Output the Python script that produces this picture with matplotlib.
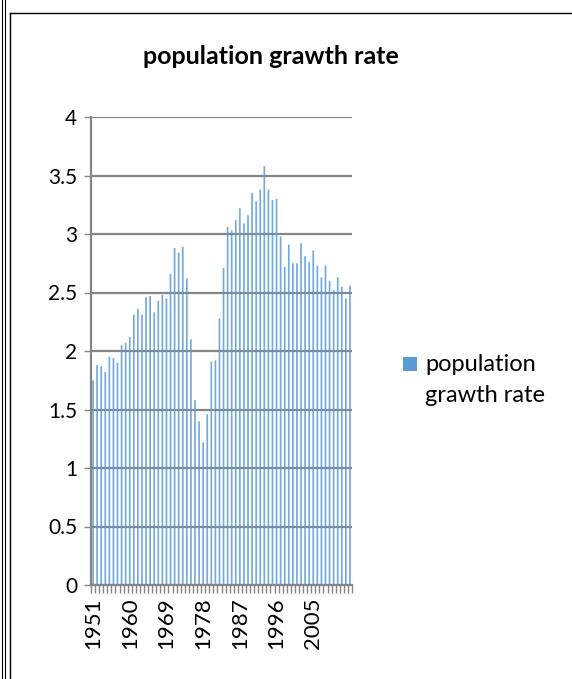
import numpy as np
import matplotlib
matplotlib.use("Agg")
import matplotlib.pyplot as plt
from matplotlib.lines import Line2D
from matplotlib.patches import Rectangle
from matplotlib.ticker import FuncFormatter

plt.rcParams['font.family'] = ['Lato', 'DejaVu Sans']

W, H = 572, 679

years = list(range(1951, 2015))
growth_rate = [
    1.75, 1.88, 1.87, 1.82, 1.95, 1.94, 1.90, 2.05, 2.07, 2.12,
    2.31, 2.36, 2.31, 2.46, 2.47, 2.33, 2.43, 2.48, 2.45, 2.66,
    2.88, 2.84, 2.89, 2.62, 2.10, 1.58, 1.40, 1.22, 1.46, 1.91,
    1.92, 2.28, 2.71, 3.06, 3.03,
    3.12, 3.22, 3.09, 3.16, 3.35, 3.28, 3.38, 3.58, 3.38, 3.29,
    3.30, 2.98, 2.72, 2.91, 2.75, 2.75, 2.92, 2.81, 2.76, 2.86,
    2.73, 2.63, 2.73, 2.60, 2.52, 2.63, 2.55, 2.45, 2.56,
]
series_name = "population grawth rate"
legend_lines = ["population", "grawth rate"]

BLUE = "#5B9BD5"
GRID = "#868686"


def px(x):
    return x / W


def py(y):
    return 1 - y / H


fig = plt.figure(figsize=(W / 100, H / 100), dpi=100)
ax = fig.add_axes([px(91), py(585), px(352) - px(91), py(117) - py(585)])

x = np.arange(len(years))
ax.bar(x, growth_rate, width=0.42, color=BLUE, alpha=0.85, linewidth=0,
       snap=False, zorder=3)

ax.set_xlim(-0.5, len(years) - 0.5)
ax.set_ylim(0, 4)
ax.set_yticks(np.arange(0, 4.01, 0.5))
ax.yaxis.set_major_formatter(FuncFormatter(lambda v, p: f"{v:g}"))
ax.yaxis.grid(True, color=GRID, linewidth=1.6, zorder=1)
ax.set_axisbelow(True)

# Excel only had room for every 9th year up to 2005
label_idx = x[:-1:9]
ax.set_xticks(label_idx)
ax.set_xticklabels([str(years[i]) for i in label_idx], rotation=90, fontsize=16)
ax.set_xticks(np.arange(-0.5, len(years), 1), minor=True)
ax.tick_params(axis='x', which='major', length=0, pad=9)
ax.tick_params(axis='x', which='minor', length=6, width=1, color=GRID)
ax.tick_params(axis='y', length=5, width=1, color=GRID, labelsize=15, pad=5)

for side in ["top", "right"]:
    ax.spines[side].set_visible(False)
for side in ["left", "bottom"]:
    ax.spines[side].set_color(GRID)
    ax.spines[side].set_linewidth(1.6)
    ax.spines[side].set_zorder(4)

fig.text(px(271), py(56), series_name, ha="center", va="center",
         fontsize=18, fontweight="bold")

# legend drawn by hand to sit like the Excel one
fig.add_artist(Rectangle((px(403), py(371)), px(14), 14 / H,
                         transform=fig.transFigure, color=BLUE, linewidth=0))
fig.text(px(425), py(371), legend_lines[0], ha="left", va="baseline", fontsize=17)
fig.text(px(425), py(402), legend_lines[1], ha="left", va="baseline", fontsize=17)

# page/table borders
for xx in [1.5, 4.5]:
    fig.add_artist(Line2D([px(xx), px(xx)], [0, 1], transform=fig.transFigure,
                          color="black", linewidth=0.8))
fig.add_artist(Line2D([px(9.5), px(9.5)], [0, py(12.5)], transform=fig.transFigure,
                      color="black", linewidth=1))
fig.add_artist(Line2D([px(9.5), 1], [py(12.5), py(12.5)], transform=fig.transFigure,
                      color="black", linewidth=1))

fig.savefig("out.png", dpi=100)
